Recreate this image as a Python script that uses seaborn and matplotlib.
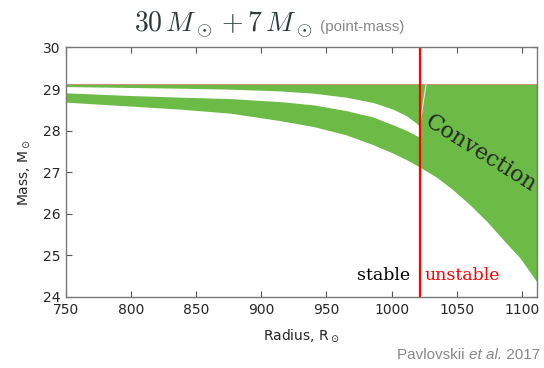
import seaborn as sns
import matplotlib.pyplot as plt

# radius grid and lower edge of the convective zone
radius_all = [750, 795, 837.5, 876, 914, 940, 965, 986, 1001, 1011.5, 1019, 1021.5,
              1034.5, 1047, 1060, 1073, 1085.5, 1098.5, 1111.5]
conv_bottom = [28.685, 28.6, 28.517, 28.421, 28.243, 28.099, 27.9, 27.66, 27.46, 27.3,
               27.17, 27.125, 26.88, 26.58, 26.22, 25.82, 25.38, 24.94, 24.36]
conv_top = 29.124

# radiative gap inside the convective zone (stable side only)
radius_stable = [750, 795, 837.5, 876, 914, 940, 965, 986, 1001, 1011.5, 1019, 1021.5]
gap_top = [29.06, 29.04, 29.021, 28.997, 28.956, 28.901, 28.805, 28.675, 28.517,
           28.356, 28.181, 28.10]
gap_bottom = [28.91, 28.85, 28.805, 28.771, 28.699, 28.62, 28.483, 28.325, 28.14,
              28.003, 27.88, 27.845]

r_crit = 1021.5
x_ticks = [750, 800, 850, 900, 950, 1000, 1050, 1100]
y_ticks = [24, 25, 26, 27, 28, 29, 30]

GREEN = '#6bbb46'

sns.set_theme(style='ticks')
plt.rcParams['font.family'] = ['DejaVu Sans']
plt.rcParams['mathtext.fontset'] = 'dejavusans'

fig = plt.figure(figsize=(5.44, 3.68), dpi=100)
ax = fig.add_axes([0.121, 0.193, 0.866, 0.678])

ax.fill_between(radius_all, conv_bottom, conv_top, color=GREEN, lw=0)
ax.fill_between(radius_stable, gap_bottom, gap_top, color='white', lw=0)

sns.lineplot(x=[radius_all[0], radius_all[-1]], y=[conv_top, conv_top], ax=ax,
             color='#d9776a', lw=0.8, alpha=0.7)
sns.lineplot(x=[r_crit + 5, r_crit], y=[conv_top, gap_top[-1]], ax=ax,
             color='#e8e8e8', lw=0.8)
ax.axvline(r_crit, color='red', lw=1.6)

ax.set_xlim(750, 1111.5)
ax.set_ylim(24, 30)
ax.set_xticks(x_ticks)
ax.set_yticks(y_ticks)
ax.tick_params(direction='in', length=4, width=0.8, color='#555555',
               top=True, right=True, labelsize=10, pad=4)
ax.tick_params(axis='x', labeltop=False)
ax.tick_params(axis='y', labelright=False)
for sp in ax.spines.values():
    sp.set_color('#777777')
    sp.set_linewidth(1.0)
    sp.set_visible(True)

ax.set_xlabel(r'Radius, R$_\odot$', fontsize=10, labelpad=8)
ax.set_ylabel(r'Mass, M$_\odot$', fontsize=10, labelpad=8)

ax.text(1014, 24.4, 'stable', ha='right', va='baseline', fontsize=12.5,
        family='DejaVu Serif', color='black')
ax.text(1025, 24.4, 'unstable', ha='left', va='baseline', fontsize=12.5,
        family='DejaVu Serif', color='red')
ax.text(1068, 27.44, 'Convection', ha='center', va='center', fontsize=16,
        family='DejaVu Serif', rotation=-32, rotation_mode='anchor')

# title
fig.text(0.41, 0.915, r'$30\,M_\odot + 7\,M_\odot$', ha='center', va='baseline',
         fontsize=20, color='#2f3b3b', math_fontfamily='cm')
fig.text(0.588, 0.915, '(point-mass)', ha='left', va='baseline', fontsize=11,
         color='#888888', family='Liberation Sans')

# citation in three pieces so "et al." can be italic
fig.canvas.draw()
r = fig.canvas.get_renderer()
t3 = fig.text(0.993, 0.025, ' 2017', ha='right', va='baseline', fontsize=11,
              color='#888888', family='Liberation Sans')
x0 = t3.get_window_extent(r).x0 / fig.bbox.width
t2 = fig.text(x0, 0.025, 'et al.', ha='right', va='baseline', fontsize=11,
              color='#888888', family='Liberation Sans', style='italic')
x0 = t2.get_window_extent(r).x0 / fig.bbox.width
fig.text(x0, 0.025, 'Pavlovskii ', ha='right', va='baseline', fontsize=11,
         color='#888888', family='Liberation Sans')

fig.savefig('out.png', dpi=100)
